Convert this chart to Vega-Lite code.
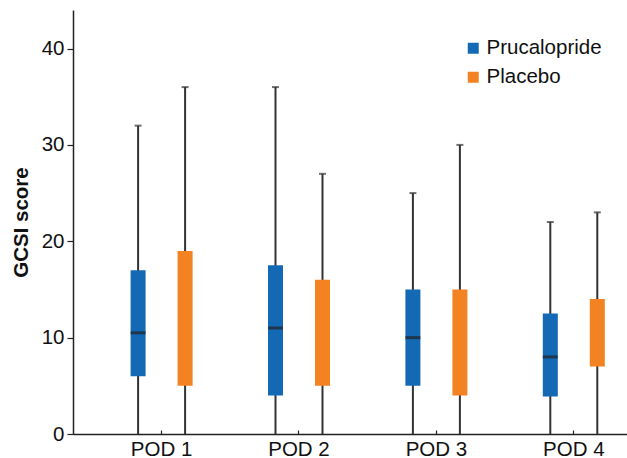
{
  "$schema": "https://vega.github.io/schema/vega-lite/v6.json",
  "autosize": "none",
  "width": 554,
  "height": 424,
  "padding": {"left": 73, "top": 10, "right": 0, "bottom": 24},
  "config": {
    "view": {"stroke": null},
    "font": "Liberation Sans",
    "axis": {"domainColor": "#222", "tickColor": "#222", "labelColor": "#111", "titleColor": "#111", "grid": false}
  },
  "data": {
    "values": [
      {"pod": "POD 1", "group": "Prucalopride", "min": 0, "q1": 6, "median": 10.5, "q3": 17, "max": 32},
      {"pod": "POD 1", "group": "Placebo", "min": 0, "q1": 5, "median": 12, "q3": 19, "max": 36},
      {"pod": "POD 2", "group": "Prucalopride", "min": 0, "q1": 4, "median": 11, "q3": 17.5, "max": 36},
      {"pod": "POD 2", "group": "Placebo", "min": 0, "q1": 5, "median": 10, "q3": 16, "max": 27},
      {"pod": "POD 3", "group": "Prucalopride", "min": 0, "q1": 5, "median": 10, "q3": 15, "max": 25},
      {"pod": "POD 3", "group": "Placebo", "min": 0, "q1": 4, "median": 9, "q3": 15, "max": 30},
      {"pod": "POD 4", "group": "Prucalopride", "min": 0, "q1": 3.9, "median": 8, "q3": 12.5, "max": 22},
      {"pod": "POD 4", "group": "Placebo", "min": 0, "q1": 7, "median": 10, "q3": 14, "max": 23}
    ]
  },
  "encoding": {
    "x": {
      "field": "pod", "type": "nominal",
      "scale": {"paddingInner": 0.2256, "paddingOuter": 0.1288, "align": 1},
      "axis": {"title": null, "labelAngle": 0, "labelFontSize": 20.5, "tickSize": -4, "labelPadding": 9, "domainWidth": 1.5, "tickWidth": 1.2}
    },
    "xOffset": {
      "field": "group", "type": "nominal",
      "scale": {"domain": ["Prucalopride", "Placebo"], "paddingInner": 0, "paddingOuter": 0.132}
    }
  },
  "layer": [
    {
      "mark": {"type": "rule", "color": "#333", "strokeWidth": 2},
      "encoding": {
        "y": {
          "field": "min", "type": "quantitative",
          "scale": {"domain": [0, 44], "nice": false},
          "axis": {"values": [0, 10, 20, 30, 40], "title": "GCSI score", "titleFontSize": 20.5, "titleFontWeight": "bold", "titlePadding": 10, "labelFontSize": 20.5, "tickSize": 6, "labelPadding": 3, "domainWidth": 1.5, "tickWidth": 1.2}
        },
        "y2": {"field": "max"}
      }
    },
    {
      "mark": {"type": "bar", "width": 15},
      "encoding": {
        "y": {"field": "q1", "type": "quantitative"},
        "y2": {"field": "q3"},
        "color": {
          "field": "group", "type": "nominal",
          "scale": {"domain": ["Prucalopride", "Placebo"], "range": ["#1469b5", "#f28222"]},
          "legend": {
            "title": null, "orient": "none", "legendX": 390, "legendY": 28,
            "symbolType": "square", "symbolSize": 121, "symbolStrokeWidth": 0,
            "labelFontSize": 20.5, "labelColor": "#111", "rowPadding": 8, "labelOffset": 3
          }
        }
      }
    },
    {
      "transform": [{"filter": "datum.group === 'Prucalopride'"}],
      "mark": {"type": "tick", "color": "#222", "size": 15, "thickness": 3},
      "encoding": {"y": {"field": "median", "type": "quantitative"}}
    },
    {
      "mark": {"type": "tick", "color": "#333", "size": 7, "thickness": 2},
      "encoding": {"y": {"field": "max", "type": "quantitative"}}
    }
  ]
}
